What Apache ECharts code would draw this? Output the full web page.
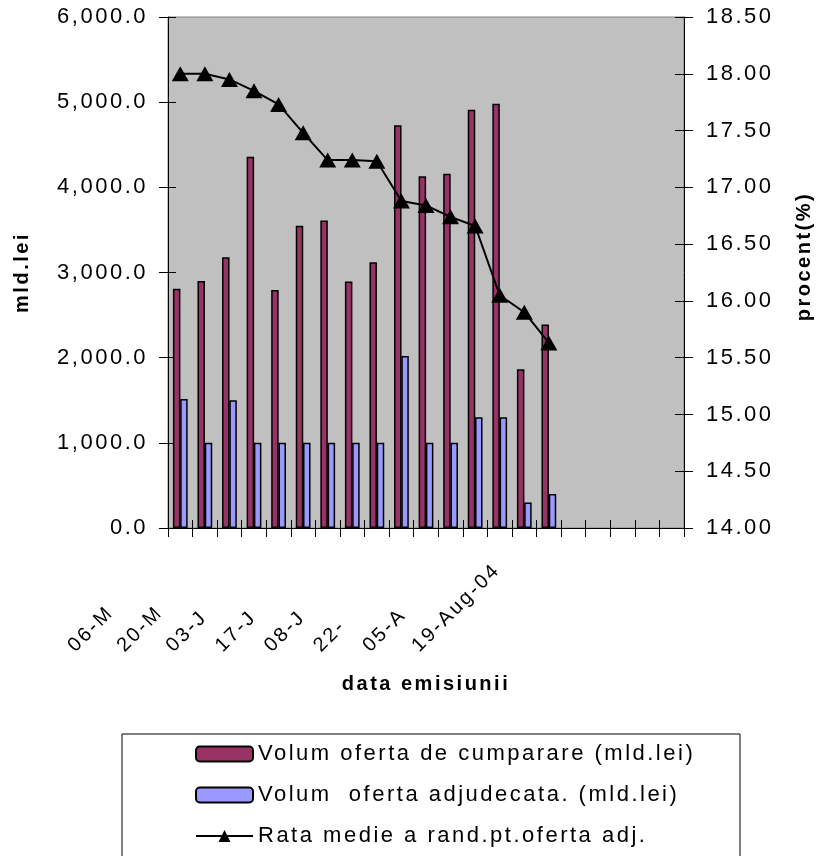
<!DOCTYPE html>
<html>
<head>
<meta charset="utf-8">
<script src="https://cdn.jsdelivr.net/npm/echarts@6/dist/echarts.min.js"></script>
<style>
  html, body { margin: 0; padding: 0; background: #fff; }
  #chart { width: 816px; height: 856px; }
</style>
</head>
<body>
<div id="chart"></div>
<script>
// tick labels of the date axis (only every other one is printed, truncated as in the original)
const dateLabels = ['06-M', '', '20-M', '', '03-J', '', '17-J', '', '08-J', '', '22-', '', '05-A', '', '19-Aug-04', '', '', '', '', '', '']
const categories = dateLabels.map((_, i) => 'c' + i)

// mld.lei
const bidVolume = [2810, 2900, 3180, 4360, 2795, 3550, 3610, 2895, 3120, 4730, 4130, 4160, 4910, 4980, 1865, 2390]
const awardedVolume = [1515, 1000, 1500, 1000, 1000, 1000, 1000, 1000, 1000, 2020, 1000, 1000, 1300, 1300, 300, 400]
// procent
const avgRate = [18.00, 18.00, 17.95, 17.85, 17.73, 17.48, 17.24, 17.24, 17.23, 16.88, 16.84, 16.74, 16.66, 16.05, 15.90, 15.63]

const seriesNames = [
  'Volum oferta de cumparare (mld.lei)',
  'Volum  oferta adjudecata. (mld.lei)',
  'Rata medie a rand.pt.oferta adj.'
]

const font = "'Liberation Sans', Arial, sans-serif"

// the original prints all its text with wide letter spacing
const fillText = CanvasRenderingContext2D.prototype.fillText
CanvasRenderingContext2D.prototype.fillText = function (...args) {
  this.letterSpacing = '2.5px'
  return fillText.apply(this, args)
}

const chart = echarts.init(document.getElementById('chart'), null, { renderer: 'canvas' })

const leftAxis = { type: 'value', min: 0, max: 6000, interval: 1000, position: 'left' }
const rightAxis = { type: 'value', min: 14, max: 18.5, interval: 0.5, position: 'right' }

chart.setOption({
  backgroundColor: '#fff',
  textStyle: { fontFamily: font, color: '#000' },
  grid: {
    left: 168, right: 132, top: 17, bottom: 328,
    outerBoundsMode: 'none',
    show: true, backgroundColor: '#c0c0c0', borderColor: '#808080', borderWidth: 1
  },
  legend: {
    orient: 'vertical',
    left: 195,
    top: 742,
    padding: 0,
    itemWidth: 57,
    itemHeight: 15,
    itemGap: 17,
    data: seriesNames,
    textStyle: { fontSize: 22, lineHeight: 24, color: '#000', fontFamily: font }
  },
  graphic: [{
    type: 'rect',
    silent: true,
    z: -10,
    shape: { x: 122, y: 734, width: 618, height: 150 },
    style: { fill: 'none', stroke: '#000', lineWidth: 1 }
  }],
  xAxis: [
    {
      type: 'category',
      data: categories,
      position: 'bottom',
      name: 'data emisiunii',
      nameLocation: 'middle',
      nameGap: 146,
      nameTextStyle: { fontSize: 20, fontWeight: 'bold', color: '#000', fontFamily: font },
      axisLine: { show: true, onZero: false, lineStyle: { color: '#000' } },
      axisTick: { show: true, interval: 0, length: 9, lineStyle: { color: '#000' } },
      axisLabel: {
        interval: 0,
        rotate: 45,
        margin: 12,
        padding: [0, 14, 0, 0],
        formatter: (v, i) => dateLabels[i] ? '{v|' + dateLabels[i] + '}' : '',
        rich: {
          v: { width: 140, align: 'left', fontSize: 20, color: '#000', fontFamily: font }
        }
      }
    },
    {
      // inner half of the crossing ticks
      type: 'category',
      data: categories,
      position: 'bottom',
      offset: 0,
      axisLine: { show: false, onZero: false },
      axisTick: { show: true, inside: true, interval: 0, length: 8, lineStyle: { color: '#000' } },
      axisLabel: { show: false }
    }
  ],
  yAxis: [
    {
      ...leftAxis,
      name: 'mld.lei',
      nameLocation: 'middle',
      nameRotate: 90,
      nameGap: 136,
      nameTextStyle: { fontSize: 20, fontWeight: 'bold', color: '#000', fontFamily: font },
      axisLine: { show: true, lineStyle: { color: '#000' } },
      axisTick: { show: true, length: 9, lineStyle: { color: '#000' } },
      splitLine: { show: false },
      axisLabel: {
        margin: 20, fontSize: 22, color: '#000',
        formatter: v => v.toLocaleString('en-US', { minimumFractionDigits: 1, maximumFractionDigits: 1 })
      }
    },
    {
      ...rightAxis,
      name: 'procent(%)',
      nameLocation: 'middle',
      nameRotate: 90,
      nameGap: 110,
      nameTextStyle: { fontSize: 20, fontWeight: 'bold', color: '#000', fontFamily: font, padding: [0, 0, 0, 32] },
      axisLine: { show: true, lineStyle: { color: '#000' } },
      axisTick: { show: true, length: 9, lineStyle: { color: '#000' } },
      splitLine: { show: false },
      axisLabel: { margin: 22, fontSize: 22, color: '#000', formatter: v => v.toFixed(2) }
    },
    {
      ...leftAxis, offset: 0,
      axisLine: { show: false }, splitLine: { show: false }, axisLabel: { show: false },
      axisTick: { show: true, inside: true, length: 8, lineStyle: { color: '#000' } }
    },
    {
      ...rightAxis, offset: 0,
      axisLine: { show: false }, splitLine: { show: false }, axisLabel: { show: false },
      axisTick: { show: true, inside: true, length: 9, lineStyle: { color: '#000' } }
    }
  ],
  series: [
    {
      name: seriesNames[0],
      type: 'bar',
      data: bidVolume,
      barWidth: 7.5,
      barGap: '-3%',
      itemStyle: { color: '#993366', borderColor: '#000', borderWidth: 1.5 }
    },
    {
      name: seriesNames[1],
      type: 'bar',
      data: awardedVolume,
      barWidth: 7.5,
      barGap: '-3%',
      itemStyle: { color: '#9999ff', borderColor: '#000', borderWidth: 1.5 }
    },
    {
      name: seriesNames[2],
      type: 'line',
      yAxisIndex: 1,
      data: avgRate,
      symbol: 'triangle',
      symbolSize: [17, 15],
      z: 5,
      itemStyle: { color: '#000' },
      lineStyle: { color: '#000', width: 2 }
    }
  ]
})
</script>
</body>
</html>
